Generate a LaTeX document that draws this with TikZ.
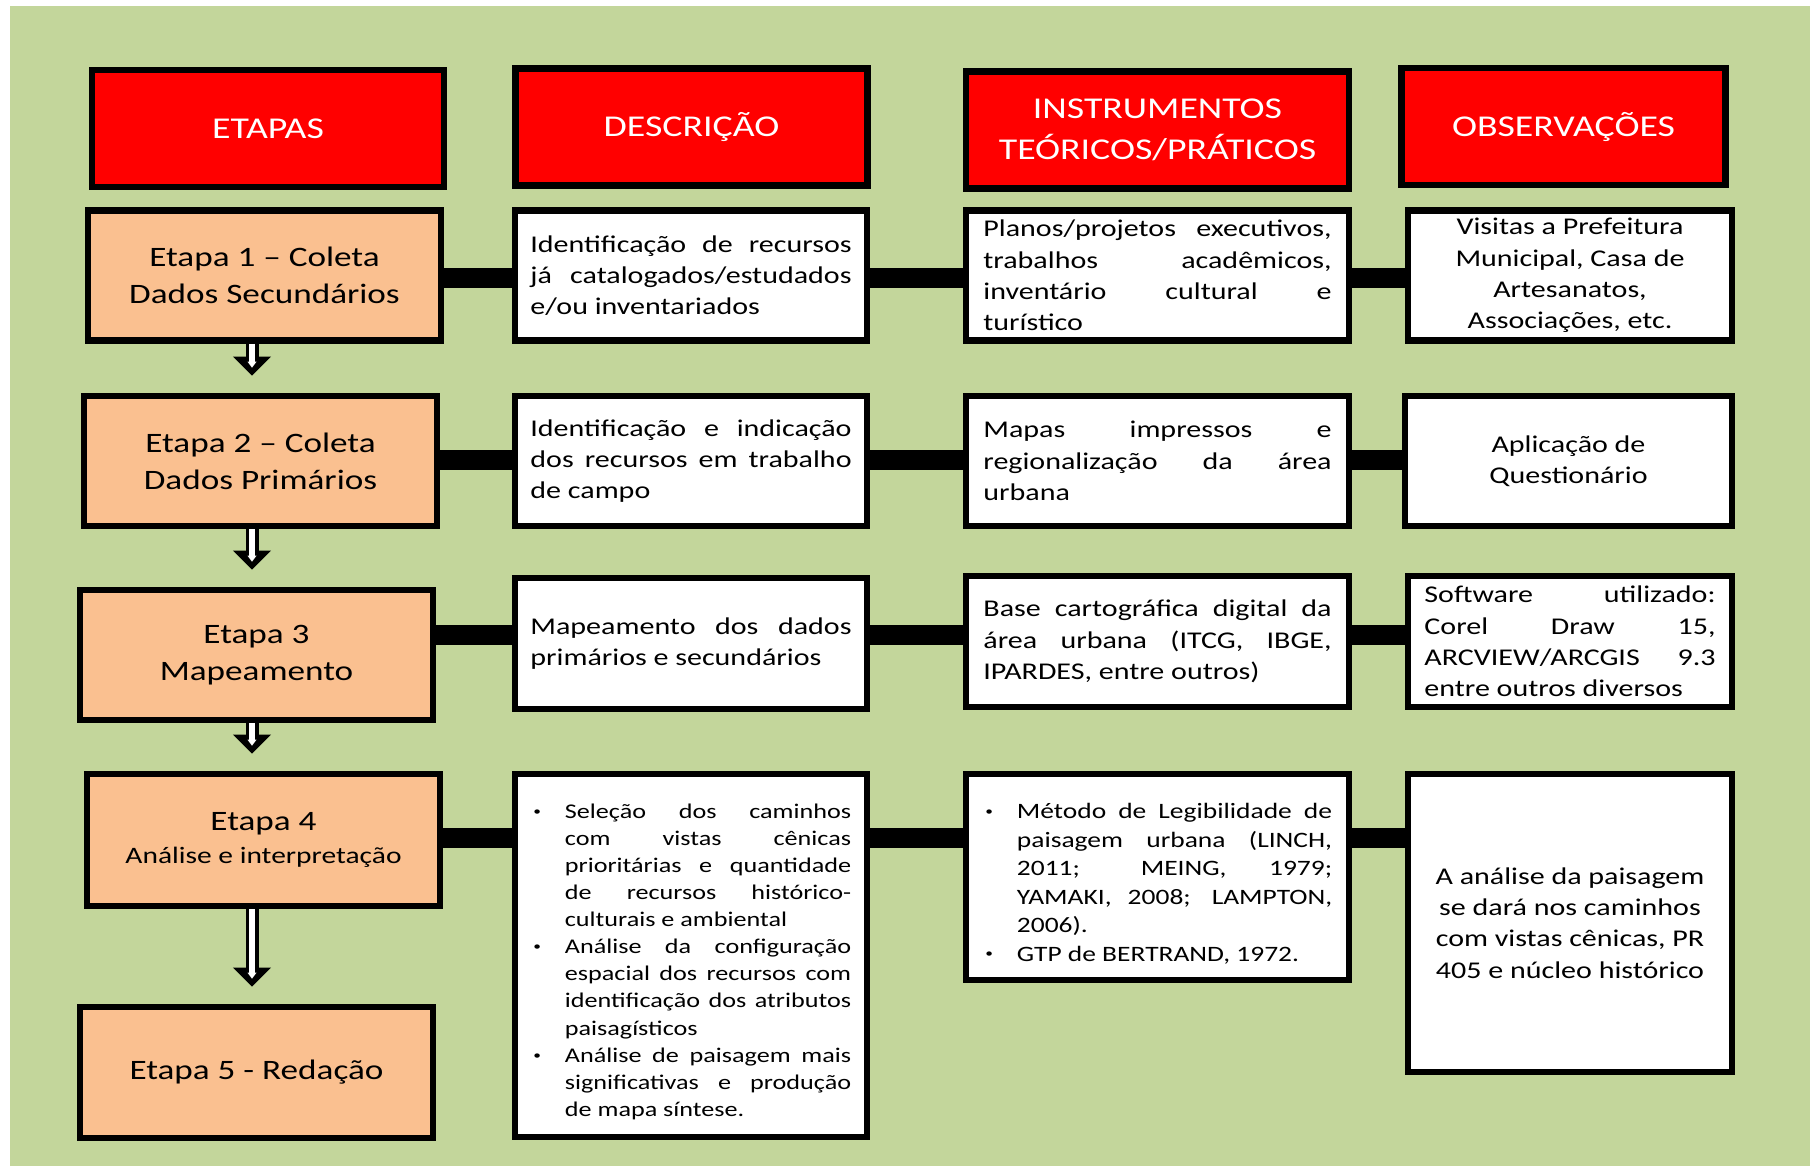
\documentclass[tikz,border=0pt]{standalone}
\usepackage{fontspec}
\setmainfont{Carlito}[FakeStretch=1.25]
\usepackage{enumitem}
\usetikzlibrary{arrows.meta}

\definecolor{fieldgreen}{HTML}{C3D69B}
\definecolor{headred}{HTML}{FF0000}
\definecolor{stagepeach}{HTML}{FAC090}

\newcommand{\smalldot}{\raisebox{0.15em}{\fontsize{3.5}{3.5}\selectfont\textbullet}}

\begin{document}
\begin{tikzpicture}
        [x=0.01cm, y=-0.01cm,
        box/.style={draw=black, line width=0.065cm, inner sep=0pt, align=center},
        head/.style={box, fill=headred, text=white, minimum height=1.17cm, font=\fontsize{8.6}{11.8}\selectfont},
        stage/.style={box, fill=stagepeach, minimum width=3.53cm, minimum height=1.30cm, font=\fontsize{8}{10.5}\selectfont},
        cell/.style={box, fill=white, minimum height=1.30cm, font=\fontsize{6.83}{8.9}\selectfont},
        just/.style={text width=#1, align=justify},
        colD/.style={minimum width=3.52cm},
        colI/.style={minimum width=3.83cm},
        colO/.style={minimum width=3.24cm},
        link/.style={black, line width=0.2cm, shorten <=-0.04cm, shorten >=-0.04cm},
        flow/.style={line width=0.13cm, shorten >=0.17cm,
          -{Triangle[length=0.19cm, width=0.38cm, line width=0pt]},
          postaction={draw=white, line width=0.055cm, shorten >=0.25cm,
            -{Triangle[length=0.06cm, width=0.09cm, line width=0pt]}}}]

        % page and green background
        \useasboundingbox (0,0) rectangle (1810,1166);
        \fill[white] (0,0) rectangle (1810,1166);
        \fill[fieldgreen] (10,6) rectangle (1810,1166);

        % header row
        \node[head, minimum width=3.52cm] (hE) at (268,128.5) {ETAPAS};
        \node[head, colD] (hD) at (691.5,127) {DESCRIÇÃO};
        \node[head, colI] (hI) at (1157.5,130) {INSTRUMENTOS\\TEÓRICOS/PRÁTICOS};
        \node[head, colO] (hO) at (1563.5,126.5) {OBSERVAÇÕES};

        % stages (left column)
        \node[stage] (e1) at (264.5,275.5) {Etapa 1 – Coleta\\Dados Secundários};
        \node[stage] (e2) at (260.5,461) {Etapa 2 – Coleta\\Dados Primários};
        \node[stage] (e3) at (256.5,655) {Etapa 3\\Mapeamento};
        \node[stage, minimum height=1.32cm] (e4) at (263.5,840)
          {Etapa 4\\[-1pt]{\fontsize{6.7}{8}\selectfont Análise e interpretação}};
        \node[stage, minimum height=1.31cm] (e5) at (256.5,1072.5) {Etapa 5 - Redação};

        % descriptions
        \node[cell, colD, just=3.21cm] (d1) at (691,275.5)
          {Identificação de recursos\linebreak já catalogados/estudados\linebreak e/ou inventariados};
        \node[cell, colD, just=3.21cm] (d2) at (691,461)
          {Identificação e indicação\linebreak dos recursos em trabalho\linebreak de campo};
        \node[cell, colD, just=3.21cm, minimum height=1.31cm] (d3) at (691,643.5)
          {Mapeamento dos dados\linebreak primários e secundários};
        \node[cell, colD, just=3.20cm, minimum height=3.63cm, font=\fontsize{5.95}{7.7}\selectfont] (d4) at (691,955.5)
          {\begin{itemize}[nosep, leftmargin=0.34cm, labelsep=0.24cm, label=\smalldot]
           \item Seleção dos caminhos\linebreak com vistas cênicas\linebreak prioritárias e quantidade\linebreak
             de recursos histórico-\linebreak culturais e ambiental
           \item Análise da configuração\linebreak espacial dos recursos com\linebreak
             identificação dos atributos\linebreak paisagísticos
           \item Análise de paisagem mais\linebreak significativas e produção\linebreak de mapa síntese.
           \end{itemize}};

        % theoretical / practical instruments
        \node[cell, colI, just=3.48cm] (i1) at (1157.5,275.5)
          {Planos/projetos executivos,\linebreak trabalhos acadêmicos,\linebreak inventário cultural e\linebreak turístico};
        \node[cell, colI, just=3.48cm] (i2) at (1157.5,461)
          {Mapas impressos e\linebreak regionalização da área\linebreak urbana};
        \node[cell, colI, just=3.48cm, minimum height=1.31cm] (i3) at (1157.5,641.5)
          {Base cartográfica digital da\linebreak área urbana (ITCG, IBGE,\linebreak IPARDES, entre outros)};
        \node[cell, colI, just=3.49cm, minimum height=2.06cm, font=\fontsize{6.25}{8.1}\selectfont] (i4) at (1157.5,877)
          {\begin{itemize}[nosep, leftmargin=0.34cm, labelsep=0.24cm, label=\smalldot]
           \item Método de Legibilidade de\linebreak paisagem urbana (LINCH,\linebreak 2011; MEING, 1979;\linebreak
             YAMAKI, 2008; LAMPTON,\linebreak 2006).
           \item GTP de BERTRAND, 1972.
           \end{itemize}};

        % observations
        \node[cell, colO] (o1) at (1570,275.5)
          {Visitas a Prefeitura\\Municipal, Casa de\\Artesanatos,\\Associações, etc.};
        \node[cell, colO, minimum width=3.27cm] (o2) at (1568.5,461) {Aplicação de\\Questionário};
        \node[cell, colO, just=2.91cm, minimum height=1.31cm] (o3) at (1570,641.5)
          {Software utilizado:\linebreak Corel Draw 15,\linebreak ARCVIEW/ARCGIS 9.3\linebreak entre outros diversos};
        \node[cell, colO, minimum height=2.98cm] (o4) at (1570,923)
          {A análise da paisagem\\se dará nos caminhos\\com vistas cênicas, PR\\405 e núcleo histórico};

        % heights of the black bars and column of the arrows
        \coordinate (r1) at (0,278);
        \coordinate (r2) at (0,460);
        \coordinate (r3) at (0,635);
        \coordinate (r4) at (0,838);
        \coordinate (ax) at (252,0);

        % black bars linking each row
        \draw[link] (e1.east |- r1) -- (d1.west |- r1);
        \draw[link] (d1.east |- r1) -- (i1.west |- r1);
        \draw[link] (i1.east |- r1) -- (o1.west |- r1);
        \draw[link] (e2.east |- r2) -- (d2.west |- r2);
        \draw[link] (d2.east |- r2) -- (i2.west |- r2);
        \draw[link] (i2.east |- r2) -- (o2.west |- r2);
        \draw[link] (e3.east |- r3) -- (d3.west |- r3);
        \draw[link] (d3.east |- r3) -- (i3.west |- r3);
        \draw[link] (i3.east |- r3) -- (o3.west |- r3);
        \draw[link] (e4.east |- r4) -- (d4.west |- r4);
        \draw[link] (d4.east |- r4) -- (i4.west |- r4);
        \draw[link] (i4.east |- r4) -- (o4.west |- r4);

        % hollow arrows between the stages
        \draw[flow] (e1.south -| ax) -- (e2.north -| ax);
        \draw[flow] (e2.south -| ax) -- (e3.north -| ax);
        \draw[flow] (e3.south -| ax) -- (e4.north -| ax);
        \draw[flow] (e4.south -| ax) -- (e5.north -| ax);

    \end{tikzpicture}
\end{document}
